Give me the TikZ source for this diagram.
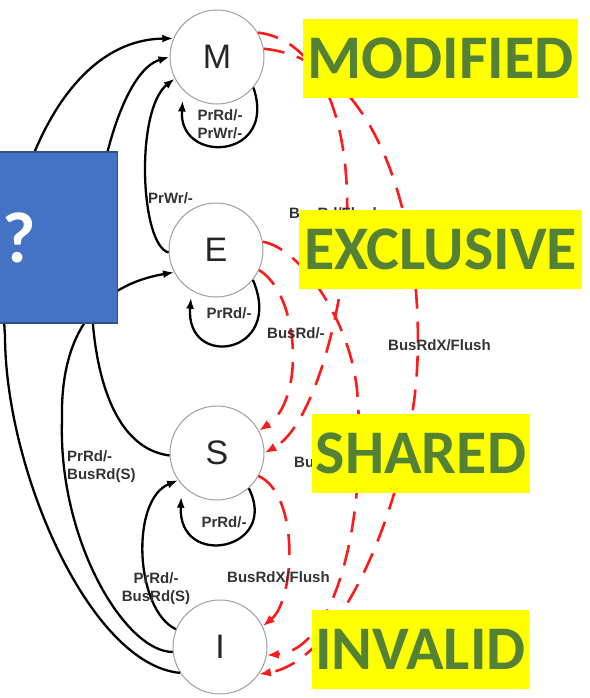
\documentclass[tikz,border=0pt]{standalone}
\usepackage{fontspec}
\setmainfont{Liberation Sans}
\newfontfamily\carlito{Carlito}
\usetikzlibrary{arrows.meta}
\definecolor{tagyellow}{HTML}{FFFF00}
\definecolor{taggreen}{HTML}{538135}
\definecolor{qblue}{HTML}{4472C4}
\definecolor{qedge}{HTML}{2F528F}
\definecolor{snoop}{HTML}{FF1A1A}
\begin{document}
\begin{tikzpicture}[x=1pt,y=-1pt,
  state/.style={circle,draw=black!38,line width=1pt,fill=white,minimum size=94pt,
    inner sep=0pt,font=\fontsize{34}{34}\selectfont,text=black!85},
  proc/.style={line width=2.3pt,-{Latex[length=11pt,width=8pt]}},
  bus/.style={color=snoop,line width=2.6pt,dash pattern=on 21pt off 13pt,
    -{Latex[length=12pt,width=9pt]}},
  lbl/.style={font=\bfseries\fontsize{15}{18}\selectfont,text=black!80,inner sep=0pt},
  tag/.style={fill=tagyellow,text=taggreen,inner sep=0pt,minimum height=79pt,
    font=\carlito\bfseries\fontsize{62}{62}\selectfont},
]
\useasboundingbox (0,0) rectangle (589,698);

% MESI states
\node[state] (M) at (217,57) {M};
\node[state] (E) at (216,250) {E};
\node[state] (S) at (217,453) {S};
\node[state] (I) at (220,647) {I};

% snooped bus transactions
\draw[bus] (M.31) .. controls (320,40) and (350,120) .. (347,220)
  .. controls (346,300) and (315,425) .. (S.0);
\draw[bus] (M.10) .. controls (380,60) and (425,230) .. (417,370)
  .. controls (410,490) and (345,660) .. (I.325);
\draw[bus] (E.10) .. controls (300,248) and (350,320) .. (357,390)
  .. controls (368,520) and (335,650) .. (I.350);
\draw[bus] (E.335) .. controls (300,295) and (305,400) .. (S.28);
\draw[bus] (S.331) .. controls (300,495) and (295,600) .. (I.26);

% processor-side transitions
\draw[proc,shorten >=10pt] (M.320) .. controls (278,160) and (178,165) .. (M.225);
\draw[proc,shorten >=7pt] (E.321) .. controls (285,355) and (185,370) .. (E.239);
\draw[proc,shorten >=12pt] (S.312) .. controls (280,550) and (178,570) .. (S.222);
\draw[proc] (E.183) .. controls (140,245) and (135,110) .. (M.207);
\draw[proc] (I.213) .. controls (90,665) and (5,470) .. (5,335)
  .. controls (-5,220) and (50,40) .. (M.157);
\draw[proc] (S.183) .. controls (45,440) and (90,80) .. (M.180);
\draw[proc] (I.186) .. controls (125,652) and (58,540) .. (62,420)
  .. controls (60,330) and (100,285) .. (E.208);
\draw[proc] (I.158) .. controls (135,610) and (130,500) .. (S.215);

% transition labels
\node[lbl,anchor=west] (lEM) at (148,198) {PrWr/-};
\node[lbl,align=center] (lMM) at (220,124) {PrRd/-\\PrWr/-};
\node[lbl] (lEE) at (229,313) {PrRd/-};
\node[lbl] (lSS) at (224,522) {PrRd/-};
\node[lbl,anchor=west] (lMS) at (289,213) {BusRd/Flush};
\node[lbl,anchor=west] (lES) at (267,333) {BusRd/-};
\node[lbl,anchor=west] (lMI) at (388,345) {BusRdX/Flush};
\node[lbl,anchor=west,align=left] (lIE) at (67,467) {PrRd/-\\BusRd(S)};
\node[lbl,anchor=west] (lSI) at (294,462) {BusRdX/-};
\node[lbl,anchor=west] (lEI) at (227,577) {BusRdX/Flush};
\node[lbl,align=center] (lIS) at (156,589) {PrRd/-\\BusRd(S)};

% state name tags
\node[tag,minimum width=275pt] (tM) at (440.5,58.5) {MODIFIED};
\node[tag,minimum width=283pt] (tE) at (440.5,249) {EXCLUSIVE};
\node[tag,minimum width=218pt] (tS) at (421,453) {SHARED};
\node[tag,minimum width=217pt] (tI) at (420.5,649) {INVALID};

% question box
\node[draw=qedge,fill=qblue,line width=1.5pt,minimum width=122pt,minimum height=171pt,
  inner sep=0pt] (q) at (56.5,237.5) {};
\node[text=white,inner sep=0pt,font=\carlito\bfseries\fontsize{72}{72}\selectfont]
  (qm) at (19,238) {?};
\end{tikzpicture}
\end{document}
